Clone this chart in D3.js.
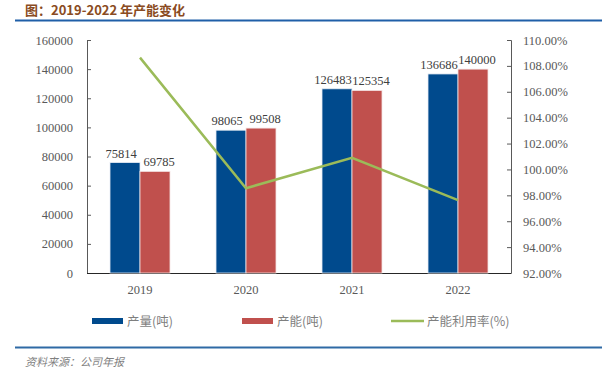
<!DOCTYPE html>
<html>
<head>
<meta charset="utf-8">
<script src="https://cdn.jsdelivr.net/npm/d3@7"></script>
<style>
  body { margin: 0; background: #fff; }
  svg text { font-family: "Liberation Serif", "Times New Roman", serif; }
</style>
</head>
<body>
<div id="chart"></div>
<script>
// data
const years = ["2019", "2020", "2021", "2022"];
const output = [75814, 98065, 126483, 136686];     // 产量(吨)
const capacity = [69785, 99508, 125354, 140000];   // 产能(吨)
const utilRate = [108.64, 98.55, 100.90, 97.63];   // 产能利用率(%)

const W = 606, H = 375;
const plotL = 87, plotR = 511, plotT = 40, plotB = 273;

const svg = d3.select("#chart").append("svg")
    .attr("width", W).attr("height", H);

// title + rules
svg.append("text")
    .attr("x", 25).attr("y", 15)
    .style("font-family", "'Noto Sans CJK SC', sans-serif")
    .style("font-weight", "bold")
    .style("font-size", "13px")
    .attr("fill", "#8a4b22")
    .text("图：2019-2022 年产能变化");
svg.append("line").attr("x1", 15).attr("x2", 602).attr("y1", 20.5).attr("y2", 20.5)
    .attr("stroke", "#1f5fa8").attr("stroke-width", 2);
svg.append("line").attr("x1", 15).attr("x2", 602).attr("y1", 347.5).attr("y2", 347.5)
    .attr("stroke", "#2f6aa5").attr("stroke-width", 2);
svg.append("text")
    .attr("x", 25).attr("y", 366)
    .style("font-family", "'Noto Sans CJK SC', sans-serif")
    .style("font-style", "italic")
    .style("font-size", "11px")
    .attr("fill", "#7f7f7f")
    .text("资料来源：公司年报");

// scales
const x = d3.scaleBand().domain(years).range([plotL, plotR]);
const yL = d3.scaleLinear().domain([0, 160000]).range([plotB, plotT]);
const yR = d3.scaleLinear().domain([92, 110]).range([plotB, plotT]);
const barW = 30;

// axes
const axL = svg.append("g").attr("transform", `translate(${plotL},0)`)
    .call(d3.axisLeft(yL).tickValues(d3.range(0, 160001, 20000)).tickSizeInner(-4).tickSizeOuter(-4).tickPadding(14).tickFormat(d3.format("d")));
const axR = svg.append("g").attr("transform", `translate(${plotR},0)`)
    .call(d3.axisRight(yR).tickValues(d3.range(92, 110.01, 2)).tickSizeInner(-4).tickSizeOuter(-4).tickPadding(12).tickFormat(d => d.toFixed(2) + "%"));
[axL, axR].forEach(a => {
  a.select(".domain").attr("stroke", "#595959");
  a.selectAll(".tick line").attr("stroke", "#595959");
  a.selectAll("text").attr("fill", "#595959").style("font-size", "12.5px");
});

const axB = svg.append("g").attr("transform", `translate(0,${plotB})`)
    .call(d3.axisBottom(x).tickSize(0).tickPadding(12));
axB.select(".domain").attr("stroke", "#262626").attr("d", `M${plotL},0.5H${plotR}`);
axB.selectAll("text").attr("fill", "#595959").style("font-size", "12.5px");

// bars
const g = svg.append("g");
g.selectAll(".b1").data(years).join("rect")
    .attr("x", d => x(d) + x.bandwidth() / 2 - barW)
    .attr("y", (d, i) => yL(output[i]))
    .attr("width", barW)
    .attr("height", (d, i) => plotB - yL(output[i]))
    .attr("fill", "#004a8d").attr("stroke", "#e6ecf4").attr("stroke-width", 0.8);
g.selectAll(".b2").data(years).join("rect")
    .attr("x", d => x(d) + x.bandwidth() / 2)
    .attr("y", (d, i) => yL(capacity[i]))
    .attr("width", barW)
    .attr("height", (d, i) => plotB - yL(capacity[i]))
    .attr("fill", "#c0504d").attr("stroke", "#f4e4e4").attr("stroke-width", 0.8);

// data labels (nudged apart a little so the 6-digit ones don't collide)
const lbl = svg.append("g").style("font-size", "12.5px").attr("fill", "#404040");
lbl.selectAll(".l1").data(years).join("text")
    .attr("x", d => x(d) + x.bandwidth() / 2 - barW / 2 - 4)
    .attr("y", (d, i) => yL(output[i]) - 5)
    .attr("text-anchor", "middle")
    .text((d, i) => output[i]);
lbl.selectAll(".l2").data(years).join("text")
    .attr("x", d => x(d) + x.bandwidth() / 2 + barW / 2 + 4)
    .attr("y", (d, i) => yL(capacity[i]) - 5)
    .attr("text-anchor", "middle")
    .text((d, i) => capacity[i]);

// utilization line
svg.append("path")
    .datum(utilRate)
    .attr("fill", "none").attr("stroke", "#9bbb59").attr("stroke-width", 2.5)
    .attr("d", d3.line().x((d, i) => x(years[i]) + x.bandwidth() / 2).y(d => yR(d)));

// legend
const leg = svg.append("g").attr("transform", "translate(0,321)");
const items = [
  { name: "产量(吨)", color: "#004a8d", type: "bar", x: 92 },
  { name: "产能(吨)", color: "#c0504d", type: "bar", x: 242 },
  { name: "产能利用率(%)", color: "#9bbb59", type: "line", x: 391 }
];
items.forEach(it => {
  if (it.type === "bar") {
    leg.append("rect").attr("x", it.x).attr("y", -3).attr("width", 31).attr("height", 6).attr("fill", it.color);
  } else {
    leg.append("line").attr("x1", it.x).attr("x2", it.x + 33).attr("y1", 0).attr("y2", 0)
      .attr("stroke", it.color).attr("stroke-width", 2.5);
  }
  leg.append("text").attr("x", it.x + (it.type === "bar" ? 35 : 36)).attr("y", 5)
    .style("font-family", "'Noto Sans CJK SC', sans-serif")
    .style("font-size", "12.5px").attr("fill", "#7f7f7f")
    .text(it.name);
});
</script>
</body>
</html>
